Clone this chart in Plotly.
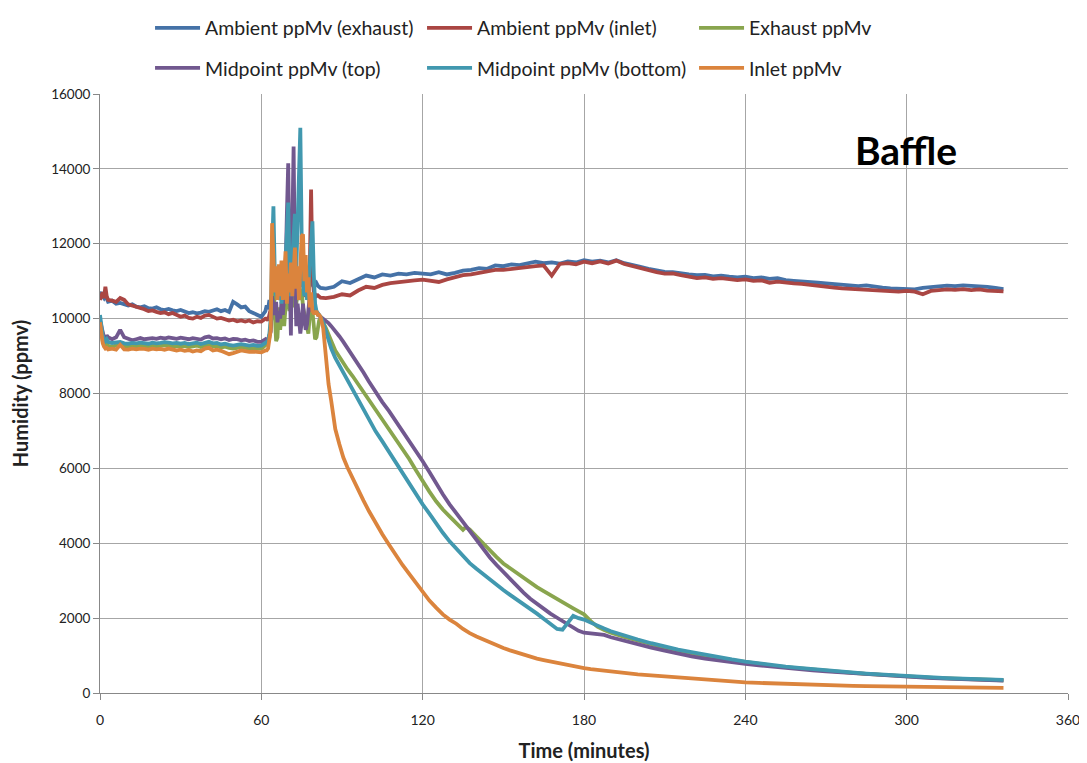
import plotly.graph_objects as go

# ---------------- time axes (minutes) ----------------
t_pre = [0, 0.5, 1, 1.5, 2, 2.5, 3, 4.5, 6, 7.5, 9, 10.5, 12, 13.5, 15, 16.5, 18, 19.5, 21, 22.5,
         24, 25.5, 27, 28.5, 30, 31.5, 33, 34.5, 36, 37.5, 39, 40.5, 42, 43.5, 45, 46.5, 48, 49.5,
         51, 52.5, 54, 55.5, 57, 58.5, 60, 61.5]
t_spike = [62, 62.5, 63, 63.5, 64, 64.5, 65, 65.5, 66, 66.5, 67, 67.5, 68, 68.5, 69, 69.5, 70, 70.5,
           71, 71.5, 72, 72.5, 73, 73.5, 74, 74.5, 75, 75.5, 76, 76.5, 77, 77.5, 78, 78.5, 79, 79.5,
           80, 80.5, 81, 81.5, 82]
t_amb = [84, 87, 90, 93, 96, 99, 102, 105, 108, 111, 114, 117, 120, 123, 126, 129, 132, 135, 138,
         141, 144, 147, 150, 153, 156, 159, 162, 165, 168, 171, 174, 177, 180, 183, 186, 189, 192,
         195, 198, 201, 204, 207, 210, 213, 216, 219, 222, 225, 228, 231, 234, 237, 240, 243, 246,
         249, 252, 255, 258, 261, 264, 267, 270, 273, 276, 279, 282, 285, 288, 291, 294, 297, 300,
         303, 306, 309, 312, 315, 318, 321, 324, 327, 330, 333, 336]
t_dec = [83, 84, 85, 86, 87.5, 89, 90.5, 92, 94, 96, 98, 100, 102.5, 105, 107.5, 110, 112.5, 115,
         117.5, 120, 122.5, 125, 127.5, 130, 132.5, 135, 136, 137.5, 140, 142.5, 145, 147.5, 150,
         152.5, 155, 157.5, 160, 162.5, 165, 167.5, 170, 172, 174, 176, 178, 180, 182.5, 185, 187.5,
         190, 195, 200, 205, 210, 215, 220, 225, 230, 235, 240, 245, 250, 255, 260, 265, 270, 275,
         280, 285, 290, 295, 300, 305, 310, 315, 320, 325, 330, 336]

# ---------------- Ambient ppMv (exhaust) ----------------
amb_exh_pre = [10650, 10700, 10600, 10550, 10620, 10500, 10450, 10480, 10400, 10420, 10380, 10350,
               10380, 10320, 10300, 10330, 10280, 10270, 10300, 10250, 10230, 10260, 10220, 10200,
               10230, 10180, 10150, 10170, 10140, 10160, 10200, 10180, 10220, 10250, 10200, 10230,
               10180, 10450, 10380, 10300, 10320, 10200, 10150, 10100, 10050, 10200]
amb_exh_spike = [10350, 10250, 10500, 10450, 10700, 10900, 11000, 10800, 11100, 10900, 11000, 10850,
                 11100, 10900, 11050, 10950, 11100, 10900, 11000, 10850, 11050, 10950, 11100, 10900,
                 11000, 10850, 11050, 10950, 11000, 10850, 10950, 10900, 11000, 10950, 10900, 10850,
                 10900, 10950, 10880, 10850, 10820]
amb_exh_post = [10800, 10850, 11000, 10950, 11050, 11150, 11100, 11180, 11150, 11200, 11180, 11220,
                11200, 11180, 11240, 11180, 11220, 11280, 11300, 11350, 11330, 11420, 11400, 11450,
                11430, 11480, 11520, 11480, 11500, 11470, 11530, 11500, 11560, 11520, 11550, 11500,
                11560, 11480, 11420, 11380, 11330, 11280, 11250, 11240, 11200, 11180, 11160, 11170,
                11130, 11150, 11120, 11100, 11120, 11080, 11100, 11060, 11080, 11030, 11010, 11000,
                10980, 10960, 10940, 10920, 10900, 10880, 10870, 10890, 10850, 10830, 10810, 10800,
                10790, 10780, 10820, 10830, 10860, 10880, 10870, 10890, 10880, 10860, 10850, 10820,
                10790]

# ---------------- Ambient ppMv (inlet) ----------------
amb_inl_pre = [10500, 10600, 10700, 10550, 10850, 10600, 10500, 10480, 10450, 10550, 10500, 10380,
               10350, 10300, 10280, 10250, 10200, 10220, 10180, 10150, 10170, 10120, 10150, 10100,
               10050, 10080, 10020, 10000, 10050, 10020, 10080, 10100, 10050, 10000, 10020, 9980,
               9950, 9970, 9930, 9950, 9920, 9950, 9900, 9930, 9920, 10000]
amb_inl_spike = [10000, 9950, 10150, 10250, 10400, 10600, 10500, 10700, 10550, 10650, 10500, 10700,
                 10600, 10750, 10550, 10650, 10700, 10550, 10650, 10600, 10750, 10600, 10650, 10700,
                 10550, 10650, 10600, 10750, 10650, 10600, 10700, 10650, 11200, 13450, 11300, 10700,
                 10650, 10600, 10620, 10580, 10560]
amb_inl_post = [10550, 10580, 10650, 10620, 10750, 10850, 10820, 10900, 10950, 10980, 11000, 11020,
                11040, 11010, 10980, 11050, 11100, 11160, 11180, 11220, 11250, 11300, 11300, 11330,
                11360, 11380, 11400, 11420, 11150, 11460, 11480, 11450, 11520, 11480, 11530, 11470,
                11550, 11460, 11400, 11350, 11300, 11240, 11200, 11210, 11160, 11110, 11080, 11100,
                11060, 11080, 11050, 11030, 11050, 11010, 11020, 10960, 10990, 10960, 10940, 10930,
                10900, 10890, 10860, 10830, 10810, 10800, 10790, 10780, 10760, 10740, 10730, 10720,
                10740, 10720, 10650, 10740, 10760, 10780, 10770, 10790, 10760, 10780, 10750, 10740,
                10730]

# ---------------- Exhaust ppMv ----------------
exh_pre = [9850, 9600, 9400, 9300, 9280, 9320, 9270, 9250, 9280, 9350, 9260, 9250, 9270, 9260,
           9280, 9270, 9250, 9280, 9260, 9270, 9290, 9280, 9260, 9270, 9250, 9270, 9240, 9260,
           9280, 9240, 9270, 9300, 9260, 9270, 9230, 9250, 9220, 9200, 9220, 9240, 9220, 9200,
           9220, 9190, 9200, 9280]
exh_spike = [9300, 9350, 9500, 9800, 10200, 10900, 10100, 9400, 9500, 10300, 9700, 10200, 10500,
             9800, 10300, 10800, 10500, 10200, 10700, 10300, 10600, 10800, 10400, 10700, 11000,
             10500, 10800, 10300, 10100, 9900, 9750, 9600, 10100, 10400, 10200, 9800, 9450, 9500,
             9750, 9950, 10000]
exh_post = [9900, 9750, 9600, 9400, 9150, 8980, 8800, 8650, 8460, 8250, 8030, 7820, 7560, 7300,
            7060, 6800, 6530, 6250, 5950, 5650, 5380, 5120, 4900, 4720, 4540, 4360, 4430, 4370,
            4180, 3990, 3810, 3630, 3460, 3330, 3200, 3070, 2950, 2830, 2720, 2610, 2500, 2420,
            2340, 2260, 2180, 2100, 1920, 1770, 1680, 1610, 1500, 1400, 1300, 1210, 1130, 1060,
            995, 935, 880, 825, 775, 730, 690, 655, 620, 590, 560, 535, 510, 485, 460, 440, 420,
            405, 390, 375, 362, 350, 340]

# ---------------- Midpoint ppMv (top) ----------------
mid_top_pre = [9950, 9800, 9600, 9500, 9450, 9550, 9500, 9450, 9500, 9700, 9500, 9450, 9420, 9450,
               9480, 9450, 9470, 9480, 9460, 9490, 9470, 9500, 9480, 9460, 9490, 9470, 9450, 9480,
               9460, 9440, 9500, 9520, 9470, 9480, 9450, 9470, 9430, 9460, 9450, 9420, 9440, 9400,
               9420, 9380, 9380, 9450]
mid_top_spike = [9400, 9450, 9550, 9650, 10600, 10400, 10100, 10450, 9900, 10200, 10000, 10450,
                 10100, 10600, 11200, 12800, 14150, 11300, 9550, 12300, 14600, 11200, 9800, 10400,
                 10100, 9600, 9900, 10400, 10000, 9700, 9850, 10300, 10600, 10200, 10250, 10300,
                 10200, 10150, 10100, 10080, 10050]
mid_top_post = [10000, 9960, 9880, 9800, 9680, 9530, 9380, 9220, 9000, 8790, 8560, 8320, 8030, 7770,
                7530, 7270, 7000, 6740, 6470, 6190, 5900, 5590, 5310, 5040, 4800, 4580, 4490, 4350,
                4100, 3850, 3620, 3420, 3230, 3040, 2840, 2680, 2520, 2380, 2250, 2120, 2010, 1920,
                1830, 1740, 1660, 1610, 1590, 1580, 1550, 1490, 1390, 1300, 1210, 1130, 1050, 980,
                920, 865, 820, 780, 740, 700, 665, 635, 605, 575, 550, 525, 500, 478, 455, 435, 415,
                400, 385, 370, 355, 342, 330]

# ---------------- Midpoint ppMv (bottom) ----------------
mid_bot_pre = [10100, 9800, 9550, 9450, 9400, 9450, 9380, 9350, 9370, 9380, 9340, 9330, 9350, 9340,
               9360, 9350, 9330, 9360, 9340, 9350, 9370, 9360, 9340, 9350, 9330, 9350, 9320, 9340,
               9360, 9320, 9350, 9380, 9340, 9350, 9310, 9330, 9300, 9280, 9300, 9320, 9300, 9280,
               9300, 9270, 9280, 9350]
mid_bot_spike = [9350, 9400, 9600, 10000, 11800, 13000, 11200, 10600, 11200, 10500, 10900, 10400,
                 11000, 10600, 11500, 12400, 13100, 11200, 10600, 11600, 12300, 12800, 11300, 12600,
                 14300, 15100, 12200, 10900, 10600, 11100, 10500, 10700, 11400, 11900, 12600, 11200,
                 10400, 10200, 10150, 10100, 10050]
mid_bot_post = [9900, 9650, 9400, 9200, 8950, 8750, 8560, 8380, 8130, 7850, 7560, 7280, 6990, 6720,
                6440, 6150, 5860, 5580, 5300, 5040, 4790, 4520, 4280, 4050, 3850, 3650, 3580, 3470,
                3320, 3170, 3030, 2890, 2750, 2620, 2500, 2380, 2240, 2120, 1980, 1850, 1710, 1690,
                1870, 2060, 2000, 1960, 1880, 1790, 1720, 1650, 1530, 1430, 1330, 1240, 1160, 1090,
                1020, 955, 895, 840, 790, 745, 705, 670, 635, 600, 570, 545, 520, 495, 470, 450, 430,
                415, 400, 385, 370, 360, 350]

# ---------------- Inlet ppMv ----------------
inlet_pre = [9900, 9600, 9350, 9250, 9200, 9220, 9180, 9200, 9170, 9300, 9180, 9170, 9200, 9180,
             9200, 9190, 9170, 9200, 9180, 9190, 9170, 9200, 9180, 9150, 9170, 9140, 9160, 9120,
             9150, 9130, 9200, 9220, 9150, 9170, 9140, 9100, 9050, 9080, 9120, 9150, 9130, 9110,
             9120, 9100, 9100, 9150]
inlet_spike = [9150, 9200, 9400, 9700, 12550, 11300, 10700, 11400, 10500, 11450, 10600, 11550,
               10500, 11000, 11800, 10400, 11200, 10700, 11500, 10600, 11100, 11900, 10800, 11400,
               10500, 11700, 12200, 12250, 11000, 11700, 10700, 11100, 10300, 10700, 10200, 10150,
               10150, 10200, 10100, 10100, 10050]
inlet_post = [9750, 8850, 8250, 7800, 7050, 6650, 6290, 6030, 5720, 5420, 5140, 4860, 4540, 4240,
              3960, 3680, 3420, 3180, 2950, 2680, 2470, 2280, 2100, 1960, 1850, 1710, 1660, 1600,
              1510, 1430, 1360, 1290, 1200, 1140, 1080, 1030, 970, 920, 880, 840, 800, 770, 745,
              720, 690, 665, 640, 615, 595, 575, 535, 500, 470, 440, 410, 385, 355, 330, 305, 285,
              270, 255, 240, 228, 215, 205, 198, 190, 182, 175, 170, 165, 160, 155, 150, 146, 142,
              138, 135]

series = [
    ("Ambient ppMv (exhaust)", "#4572A7", t_amb, amb_exh_pre, amb_exh_spike, amb_exh_post, "legend"),
    ("Ambient ppMv (inlet)", "#AA4643", t_amb, amb_inl_pre, amb_inl_spike, amb_inl_post, "legend"),
    ("Exhaust ppMv", "#89A54E", t_dec, exh_pre, exh_spike, exh_post, "legend"),
    ("Midpoint ppMv (top)", "#71588F", t_dec, mid_top_pre, mid_top_spike, mid_top_post, "legend2"),
    ("Midpoint ppMv (bottom)", "#4198AF", t_dec, mid_bot_pre, mid_bot_spike, mid_bot_post, "legend2"),
    ("Inlet ppMv", "#DB843D", t_dec, inlet_pre, inlet_spike, inlet_post, "legend2"),
]

fig = go.Figure()
for name, color, t_post, pre, spk, post, leg in series:
    xs = t_pre + t_spike + t_post
    ys = pre + spk + post
    if len(xs) != len(ys):
        print("length mismatch", name, len(t_pre), len(pre), len(t_spike), len(spk), len(t_post), len(post))
    fig.add_trace(go.Scatter(x=xs, y=ys, mode="lines", name=name, legend=leg,
                             line=dict(color=color, width=3.8)))

FONT = "Lato"
grid = "#a6a6a6"
leg_common = dict(orientation="h", x=0.0517, xanchor="left", yanchor="middle",
                  entrywidth=212, itemwidth=45, font=dict(size=19.5, family=FONT, color="#222"))
fig.update_layout(
    # page body has an 8px margin, so the figure is 8px smaller than the window
    width=1079, height=755,
    margin=dict(l=92, r=19, t=86, b=70, autoexpand=False),
    plot_bgcolor="white", paper_bgcolor="white",
    font=dict(family=FONT, color="#222222"),
    legend=dict(y=1.110, **leg_common),
    legend2=dict(y=1.043, **leg_common),
    xaxis=dict(range=[0, 360], tick0=0, dtick=60, showgrid=True, gridcolor=grid, gridwidth=1,
               showline=True, linecolor="#888888", linewidth=1, ticks="outside", ticklen=6,
               tickcolor="#888888", zeroline=False, automargin=False, tickformat="d",
               ticklabelstandoff=8, tickfont=dict(size=14, family=FONT),
               title=dict(text="<b>Time (minutes)</b>", font=dict(size=20, family=FONT), standoff=17)),
    yaxis=dict(range=[0, 16000], tick0=0, dtick=2000, showgrid=True, gridcolor=grid, gridwidth=1,
               showline=True, linecolor="#888888", linewidth=1, ticks="outside", ticklen=6,
               tickcolor="#888888", zeroline=False, automargin=False, tickformat="d",
               tickfont=dict(size=13.5, family=FONT),
               title=dict(text="<b>Humidity (ppmv)</b>", font=dict(size=20, family=FONT), standoff=24)),
    annotations=[dict(text="<b>Baffle</b>", x=280, y=14500, xref="x", yref="y", xanchor="left",
                      yanchor="middle", showarrow=False, font=dict(size=39, family=FONT, color="black"))],
)

fig.write_html("out.html")
